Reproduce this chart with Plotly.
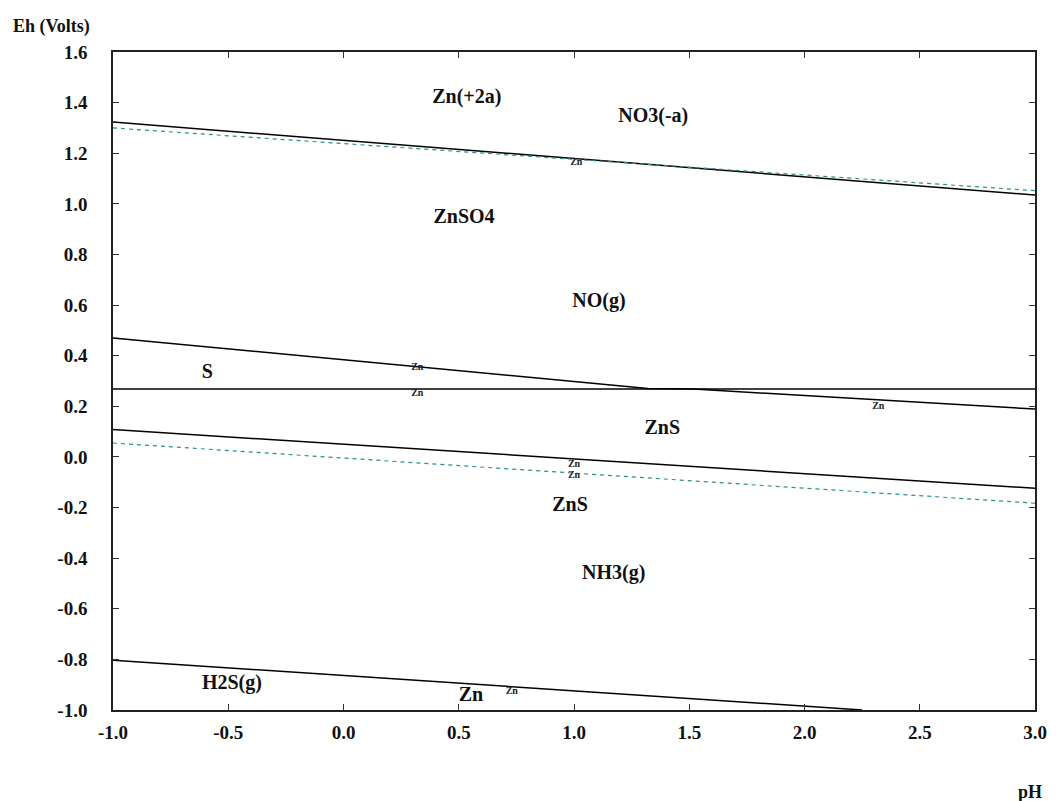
import plotly.graph_objects as go

# Boundary lines (pH, Eh)
upper_solid_ph = [-1.0, 3.0]
upper_solid_eh = [1.323, 1.035]
upper_dash_ph = [-1.0, 3.0]
upper_dash_eh = [1.300, 1.052]
mid_solid_ph = [-1.0, 1.32, 1.52, 3.0]
mid_solid_eh = [0.470, 0.270, 0.268, 0.189]
horiz_ph = [-1.0, 3.0]
horiz_eh = [0.268, 0.268]
low_solid_ph = [-1.0, 3.0]
low_solid_eh = [0.108, -0.124]
low_dash_ph = [-1.0, 3.0]
low_dash_eh = [0.055, -0.183]
bottom_solid_ph = [-1.0, 2.25]
bottom_solid_eh = [-0.803, -1.0]

# Region labels
label_text = ["Zn(+2a)", "NO3(-a)", "ZnSO4", "NO(g)", "S", "ZnS", "ZnS", "NH3(g)", "H2S(g)", "Zn"]
label_ph = [0.535, 1.344, 0.523, 1.108, -0.591, 1.383, 0.983, 1.172, -0.484, 0.553]
label_eh = [1.42, 1.343, 0.944, 0.612, 0.331, 0.110, -0.194, -0.463, -0.898, -0.945]

# Tiny marker labels along lines
mark_text = ["Zn", "Zn", "Zn", "Zn", "Zn", "Zn", "Zn"]
mark_ph = [1.01, 0.32, 0.32, 1.0, 1.0, 2.32, 0.73]
mark_eh = [1.165, 0.355, 0.25, -0.03, -0.075, 0.20, -0.925]

x_ticks = [-1.0, -0.5, 0.0, 0.5, 1.0, 1.5, 2.0, 2.5, 3.0]
y_ticks = [1.6, 1.4, 1.2, 1.0, 0.8, 0.6, 0.4, 0.2, 0.0, -0.2, -0.4, -0.6, -0.8, -1.0]

SERIF = "Liberation Serif"
DASH = "#2f8f8f"

fig = go.Figure()

def add_line(x, y, color="black", dash="solid", width=1.5):
    fig.add_trace(go.Scatter(x=x, y=y, mode="lines",
                             line=dict(color=color, dash=dash, width=width),
                             hoverinfo="skip", showlegend=False))

add_line(upper_solid_ph, upper_solid_eh)
add_line(upper_dash_ph, upper_dash_eh, color=DASH, dash="4px,4px", width=1.2)
add_line(mid_solid_ph, mid_solid_eh)
add_line(horiz_ph, horiz_eh)
add_line(low_solid_ph, low_solid_eh)
add_line(low_dash_ph, low_dash_eh, color=DASH, dash="4px,4px", width=1.2)
add_line(bottom_solid_ph, bottom_solid_eh)

fig.add_trace(go.Scatter(x=label_ph, y=label_eh, mode="text", text=label_text,
                         textfont=dict(family=SERIF, size=20, color="#111", weight="bold"),
                         hoverinfo="skip", showlegend=False))
fig.add_trace(go.Scatter(x=mark_ph, y=mark_eh, mode="text", text=mark_text,
                         textfont=dict(family=SERIF, size=10, color="#222", weight="bold"),
                         hoverinfo="skip", showlegend=False))

fig.update_layout(
    width=1059, height=801,
    margin=dict(l=113, r=16, t=52, b=91),
    paper_bgcolor="white", plot_bgcolor="white",
    font=dict(family=SERIF, color="#111"),
)
fig.update_xaxes(range=[-1.0, 3.0], tickvals=x_ticks, ticktext=[f"{v:.1f}" for v in x_ticks],
                 ticks="inside", ticklen=6, tickcolor="#333", showgrid=False, zeroline=False,
                 showline=True, linecolor="#222", linewidth=1.5, mirror="ticks",
                 ticklabelstandoff=4,
                 tickfont=dict(family=SERIF, size=19, color="#111", weight="bold"))
fig.update_yaxes(range=[-1.0, 1.6], tickvals=y_ticks, ticktext=[f"{v:.1f}" for v in y_ticks],
                 ticks="inside", ticklen=6, tickcolor="#333", showgrid=False, zeroline=False,
                 showline=True, linecolor="#222", linewidth=1.5, mirror="ticks",
                 ticklabelstandoff=20,
                 tickfont=dict(family=SERIF, size=19, color="#111", weight="bold"))

fig.add_annotation(text="Eh (Volts)", xref="paper", yref="paper", x=-0.111, y=1.0395,
                   xanchor="left", yanchor="middle", showarrow=False,
                   font=dict(family=SERIF, size=18, color="#111", weight="bold"))
fig.add_annotation(text="pH", xref="paper", yref="paper", x=0.995, y=-0.124,
                   xanchor="center", yanchor="middle", showarrow=False,
                   font=dict(family=SERIF, size=18, color="#111", weight="bold"))

fig.write_html("out.html")
